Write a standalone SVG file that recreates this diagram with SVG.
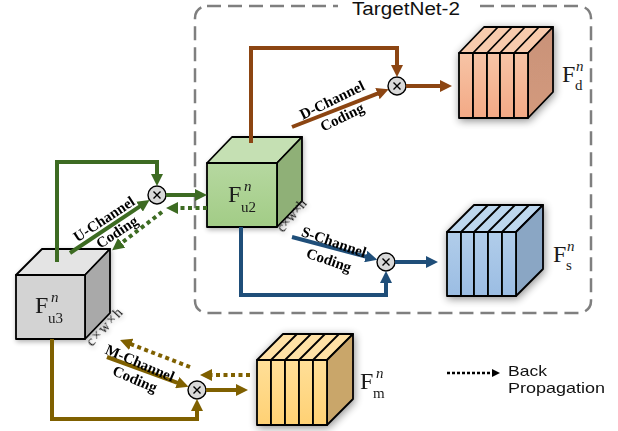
<svg xmlns="http://www.w3.org/2000/svg" width="618" height="431" viewBox="0 0 618 431">
<defs>
<style>
.edge{stroke:#000;stroke-width:1.8;stroke-linejoin:round}
.ln{fill:none;stroke-width:4;stroke-linejoin:miter}
.dot{fill:none;stroke-width:4;stroke-dasharray:4 3.5}
.g{stroke:#3d6b22}.b{stroke:#8c4512}.s{stroke:#1f4e79}.m{stroke:#7f6000}
.lab{font-family:"Liberation Serif","Times New Roman",serif;font-weight:bold;font-size:15px;fill:#000;text-anchor:middle}
.F{font-family:"Liberation Serif","Times New Roman",serif;font-size:24px;fill:#1a1a1a}
.sub{font-size:15px}
.sup{font-size:15px;font-style:italic}
.dim{font-family:"Liberation Serif","Times New Roman",serif;font-size:14px;fill:#111}
.sans{font-family:"Liberation Sans",Arial,sans-serif;fill:#111}
.op circle{fill:#d9d9d9;stroke:#000;stroke-width:1.4}
.op path{stroke:#000;stroke-width:1.4;fill:none}
</style>
<marker id="ag" viewBox="0 0 12 12" refX="4" refY="6" markerWidth="12" markerHeight="12" markerUnits="userSpaceOnUse" orient="auto"><path d="M0,0L12,6L0,12z" fill="#3d6b22"/></marker>
<marker id="ab" viewBox="0 0 12 12" refX="4" refY="6" markerWidth="12" markerHeight="12" markerUnits="userSpaceOnUse" orient="auto"><path d="M0,0L12,6L0,12z" fill="#8c4512"/></marker>
<marker id="as" viewBox="0 0 12 12" refX="4" refY="6" markerWidth="12" markerHeight="12" markerUnits="userSpaceOnUse" orient="auto"><path d="M0,0L12,6L0,12z" fill="#1f4e79"/></marker>
<marker id="am" viewBox="0 0 12 12" refX="4" refY="6" markerWidth="12" markerHeight="12" markerUnits="userSpaceOnUse" orient="auto"><path d="M0,0L12,6L0,12z" fill="#7f6000"/></marker>
<marker id="ak" viewBox="0 0 8 8" refX="3" refY="4" markerWidth="8" markerHeight="8" markerUnits="userSpaceOnUse" orient="auto"><path d="M0,0L8,4L0,8z" fill="#000"/></marker>
<filter id="sh" x="-30%" y="-30%" width="160%" height="160%"><feGaussianBlur in="SourceAlpha" stdDeviation="4"/><feOffset dx="1" dy="2"/><feComponentTransfer><feFuncA type="linear" slope="0.45"/></feComponentTransfer><feMerge><feMergeNode/><feMergeNode in="SourceGraphic"/></feMerge></filter>
<filter id="sh2" x="-30%" y="-30%" width="160%" height="160%"><feGaussianBlur in="SourceAlpha" stdDeviation="2.5"/><feOffset dx="1" dy="2"/><feComponentTransfer><feFuncA type="linear" slope="0.3"/></feComponentTransfer><feMerge><feMergeNode/><feMergeNode in="SourceGraphic"/></feMerge></filter>
<linearGradient id="oF" x1="0" y1="0" x2="0" y2="1"><stop offset="0" stop-color="#f7c4a6"/><stop offset="1" stop-color="#f3a985"/></linearGradient>
<linearGradient id="oR" x1="0" y1="0" x2="0" y2="1"><stop offset="0" stop-color="#c99279"/><stop offset="1" stop-color="#d39a7c"/></linearGradient>
<linearGradient id="sF" x1="0" y1="0" x2="0" y2="1"><stop offset="0" stop-color="#b1cdea"/><stop offset="1" stop-color="#9bbde3"/></linearGradient>
<linearGradient id="yF" x1="0" y1="0" x2="0" y2="1"><stop offset="0" stop-color="#ffdf98"/><stop offset="1" stop-color="#ffd174"/></linearGradient>
<linearGradient id="gF" x1="0" y1="0" x2="0" y2="1"><stop offset="0" stop-color="#b6d8a0"/><stop offset="1" stop-color="#a2cc86"/></linearGradient>
</defs>
<rect width="618" height="431" fill="#fff"/>

<g id="targetnet-2">
<rect x="195" y="6" width="396" height="307" rx="12" fill="none" stroke="#7f7f7f" stroke-width="2.5" stroke-dasharray="14 7"/>
<rect x="338" y="0" width="136" height="16" fill="#fff"/>
<text class="sans" x="352" y="15" font-size="18" textLength="108" lengthAdjust="spacingAndGlyphs">TargetNet-2</text>
</g>

<g id="F_u3" filter="url(#sh2)">
<polygon class="edge" points="16,275 42,249 110,249 85,275" fill="#e4e4e4"/>
<polygon class="edge" points="85,275 110,249 110,313 85,339" fill="#a9a9a9"/>
<rect class="edge" x="16" y="275" width="69" height="64" fill="#d3d3d3"/>
<text class="F" x="35" y="313">F</text><text class="F sub" x="48" y="323">u3</text><text class="F sup" x="51" y="302">n</text>
<text class="dim" transform="translate(92,347) rotate(-47)" textLength="46" lengthAdjust="spacing">c×w×h</text>
</g>

<g id="F_u2" filter="url(#sh2)">
<polygon class="edge" points="207,163 232,137 302,137 277,163" fill="#c5e0b3"/>
<polygon class="edge" points="277,163 302,137 302,201 277,227" fill="#8fb077"/>
<rect class="edge" x="207" y="163" width="70" height="64" fill="url(#gF)"/>
<text class="F" x="228" y="202">F</text><text class="F sub" x="241" y="212">u2</text><text class="F sup" x="244" y="191">n</text>
<text class="dim" transform="translate(283,233) rotate(-50)" textLength="38" lengthAdjust="spacing">c×w×h</text>
</g>

<g id="F_d">
<g filter="url(#sh)">
<polygon class="edge" points="459,53 484,27 553,27 528,53" fill="#f8cbad"/>
<path class="edge" fill="none" d="M473,53L498,27M487,53L512,27M500,53L525,27M514,53L539,27"/>
<polygon class="edge" points="528,53 553,27 553,92 528,118" fill="url(#oR)"/>
<rect class="edge" x="459" y="53" width="14" height="65" fill="url(#oF)"/>
<rect class="edge" x="473" y="53" width="14" height="65" fill="url(#oF)"/>
<rect class="edge" x="487" y="53" width="13" height="65" fill="url(#oF)"/>
<rect class="edge" x="500" y="53" width="14" height="65" fill="url(#oF)"/>
<rect class="edge" x="514" y="53" width="14" height="65" fill="url(#oF)"/>
</g>
<text class="F" x="562" y="82">F</text><text class="F sub" x="575" y="90">d</text><text class="F sup" x="576" y="71">n</text>
</g>

<g id="F_s">
<g filter="url(#sh)">
<polygon class="edge" points="447,232 474,205 543,205 516,232" fill="#bdd7ee"/>
<path class="edge" fill="none" d="M461,232L488,205M474,232L501,205M488,232L515,205M502,232L529,205"/>
<polygon class="edge" points="516,232 543,205 543,269 516,296" fill="#8aa6c4"/>
<rect class="edge" x="447" y="232" width="14" height="64" fill="url(#sF)"/>
<rect class="edge" x="461" y="232" width="13" height="64" fill="url(#sF)"/>
<rect class="edge" x="474" y="232" width="14" height="64" fill="url(#sF)"/>
<rect class="edge" x="488" y="232" width="14" height="64" fill="url(#sF)"/>
<rect class="edge" x="502" y="232" width="14" height="64" fill="url(#sF)"/>
</g>
<text class="F" x="553" y="262">F</text><text class="F sub" x="566" y="270">s</text><text class="F sup" x="567" y="251">n</text>
</g>

<g id="F_m">
<g filter="url(#sh)">
<polygon class="edge" points="257,360 283,334 353,334 327,360" fill="#ffe1a6"/>
<path class="edge" fill="none" d="M271,360L297,334M285,360L311,334M299,360L325,334M313,360L339,334"/>
<polygon class="edge" points="327,360 353,334 353,399 327,425" fill="#c9a66b"/>
<rect class="edge" x="257" y="360" width="14" height="65" fill="url(#yF)"/>
<rect class="edge" x="271" y="360" width="14" height="65" fill="url(#yF)"/>
<rect class="edge" x="285" y="360" width="14" height="65" fill="url(#yF)"/>
<rect class="edge" x="299" y="360" width="14" height="65" fill="url(#yF)"/>
<rect class="edge" x="313" y="360" width="14" height="65" fill="url(#yF)"/>
</g>
<text class="F" x="360" y="389">F</text><text class="F sub" x="373" y="398">m</text><text class="F sup" x="376" y="378">n</text>
</g>

<g id="op-u" class="op"><circle cx="157" cy="195" r="9"/><path d="M153.5,191.5l7,7m0,-7l-7,7"/></g>
<g id="op-d" class="op"><circle cx="397" cy="86" r="9"/><path d="M393.5,82.5l7,7m0,-7l-7,7"/></g>
<g id="op-s" class="op"><circle cx="386" cy="262" r="9"/><path d="M382.5,258.5l7,7m0,-7l-7,7"/></g>
<g id="op-m" class="op"><circle cx="197" cy="390" r="9"/><path d="M193.5,386.5l7,7m0,-7l-7,7"/></g>

<g id="connectors">
<path class="ln g" d="M57,262V162H157V178" marker-end="url(#ag)"/>
<path class="ln g" d="M166,195H199" marker-end="url(#ag)"/>
<path class="ln g" d="M70,253L142.9,204.4" marker-end="url(#ag)"/>
<path class="dot g" d="M207,208H174" marker-end="url(#ag)"/>
<path class="dot g" d="M162,212L118.5,245.3" marker-end="url(#ag)"/>

<path class="ln b" d="M251,143V48H397V69" marker-end="url(#ab)"/>
<path class="ln b" d="M406,86H444" marker-end="url(#ab)"/>
<path class="ln b" d="M292,127L381.2,92.2" marker-end="url(#ab)"/>

<path class="ln s" d="M241,227V295H386V279" marker-end="url(#as)"/>
<path class="ln s" d="M395,262H430" marker-end="url(#as)"/>
<path class="ln s" d="M292,237L369.6,257.6" marker-end="url(#as)"/>

<path class="ln m" d="M52,339V419H197V407" marker-end="url(#am)"/>
<path class="ln m" d="M206,390H240" marker-end="url(#am)"/>
<path class="ln m" d="M107,357L181,384.1" marker-end="url(#am)"/>
<path class="dot m" d="M250,375H208" marker-end="url(#am)"/>
<path class="dot m" d="M190,367L127.5,342.9" marker-end="url(#am)"/>

<text class="lab" transform="translate(104,219) rotate(-33.5)" y="5">U-Channel</text>
<text class="lab" transform="translate(117,232) rotate(-33.5)" y="5">Coding</text>
<text class="lab" transform="translate(332,100) rotate(-26)" y="5">D-Channel</text>
<text class="lab" transform="translate(342,117) rotate(-26)" y="5">Coding</text>
<text class="lab" transform="translate(334,242) rotate(19)" y="5">S-Channel</text>
<text class="lab" transform="translate(329,260) rotate(19)" y="5">Coding</text>
<text class="lab" transform="translate(140,363) rotate(23)" y="5">M-Channel</text>
<text class="lab" transform="translate(135,379) rotate(23)" y="5">Coding</text>
</g>

<g id="legend">
<path d="M447,373H495" fill="none" stroke="#000" stroke-width="2.5" stroke-dasharray="3 2" marker-end="url(#ak)"/>
<text class="sans" x="508" y="376" font-size="15" textLength="39" lengthAdjust="spacingAndGlyphs">Back</text>
<text class="sans" x="508" y="393" font-size="15" textLength="97" lengthAdjust="spacingAndGlyphs">Propagation</text>
</g>
</svg>
